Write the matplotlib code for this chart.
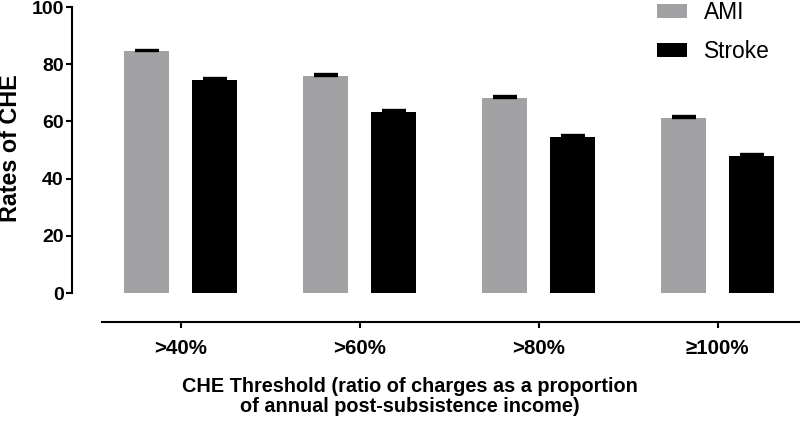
import numpy as np
import matplotlib.pyplot as plt

CATEGORIES = ['>40%', '>60%', '>80%', '\u2265100%']
AMI = [84.5, 76.0, 68.3, 61.2]
AMI_ERR = [0.5, 0.6, 0.5, 0.6]
STROKE = [74.5, 63.2, 54.5, 47.8]
STROKE_ERR = [0.8, 0.8, 0.8, 0.9]
LABELS = ['AMI', 'Stroke']
COLORS = ['#a2a2a5', '#000000']
YLABEL = 'Rates of CHE'
XLABEL = 'CHE Threshold (ratio of charges as a proportion\nof annual post-subsistence income)'

plt.rcParams['font.family'] = ['Liberation Sans', 'DejaVu Sans']

fig = plt.figure(figsize=(8, 4.25), dpi=100)
ax = fig.add_axes([0.1275, 0.2424, 0.8725, 0.7411])

x = np.arange(len(CATEGORIES))
w = 0.25
off = 0.19
for vals, errs, lab, col, sign in [(AMI, AMI_ERR, LABELS[0], COLORS[0], -1),
                                   (STROKE, STROKE_ERR, LABELS[1], COLORS[1], 1)]:
    ax.bar(x + sign * off, vals, width=w, color=col, label=lab,
           yerr=[np.zeros(len(errs)), errs],
           error_kw=dict(ecolor='black', elinewidth=1.6, capsize=8.3, capthick=1.7))

ax.set_xlim(-0.44, 3.46)
ax.set_ylim(-10.1, 100)
ax.set_yticks([0, 20, 40, 60, 80, 100])
ax.set_xticks(x)
ax.set_xticklabels(CATEGORIES)

for s in ['top', 'right']:
    ax.spines[s].set_visible(False)
ax.spines['left'].set_position(('outward', 21.6))
ax.spines['left'].set_bounds(0, 100)
ax.spines['left'].set_linewidth(1.5)
ax.spines['bottom'].set_linewidth(1.5)
ax.tick_params(axis='both', width=1.5, length=4)
ax.tick_params(axis='y', labelsize=14, pad=2)
ax.tick_params(axis='x', labelsize=14.8, pad=8)
for t in ax.get_xticklabels() + ax.get_yticklabels():
    t.set_fontweight('bold')

ax.set_ylabel(YLABEL, fontsize=16.8, fontweight='bold')
ax.yaxis.set_label_coords(11 / 800, 1 - 148 / 425, transform=fig.transFigure)
ax.yaxis.label.set_verticalalignment('center')
fig.text(410 / 800, 1 - 377 / 425, XLABEL, ha='center', va='top',
         fontsize=14.3, fontweight='bold', linespacing=1.1)

ax.legend(loc='upper left', bbox_to_anchor=(657 / 800, 1 - 1 / 425), bbox_transform=fig.transFigure,
          frameon=False, fontsize=16.4, handlelength=1.32, handleheight=0.61,
          labelspacing=0.7, handletextpad=0.75, borderpad=0, borderaxespad=0)

fig.savefig('out.png', dpi=100)
